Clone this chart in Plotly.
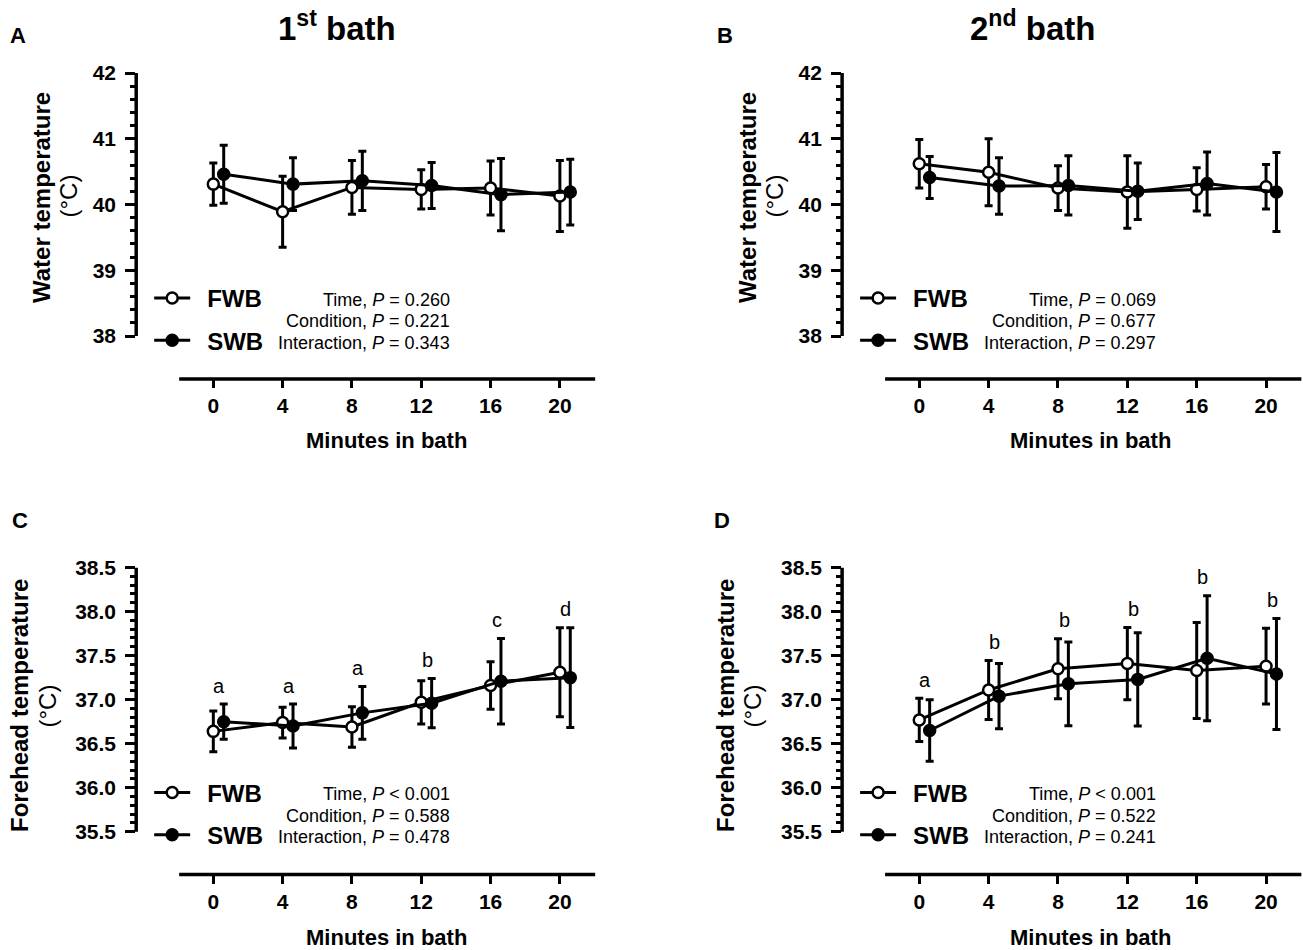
import numpy as np
import plotly.graph_objects as go

W, H = 1303, 950
FONT = "Liberation Sans, Arial, sans-serif"

# ---------------- data ----------------
minutes = [0, 4, 8, 12, 16, 20]

# Panel A: water temperature, 1st bath
A_fwb = [40.31, 39.89, 40.26, 40.23, 40.25, 40.13]
A_fwb_sd = [0.32, 0.54, 0.41, 0.30, 0.41, 0.54]
A_swb = [40.46, 40.31, 40.36, 40.29, 40.15, 40.19]
A_swb_sd = [0.44, 0.40, 0.45, 0.35, 0.55, 0.50]

# Panel B: water temperature, 2nd bath
B_fwb = [40.62, 40.49, 40.25, 40.19, 40.23, 40.27]
B_fwb_sd = [0.37, 0.51, 0.34, 0.55, 0.33, 0.34]
B_swb = [40.41, 40.28, 40.29, 40.20, 40.32, 40.19]
B_swb_sd = [0.32, 0.43, 0.45, 0.43, 0.48, 0.60]

# Panel C: forehead temperature, 1st bath
C_fwb = [36.64, 36.74, 36.69, 36.97, 37.16, 37.31]
C_fwb_sd = [0.23, 0.175, 0.23, 0.245, 0.27, 0.505]
C_swb = [36.75, 36.70, 36.85, 36.96, 37.21, 37.25]
C_swb_sd = [0.20, 0.25, 0.30, 0.28, 0.485, 0.565]

# Panel D: forehead temperature, 2nd bath
D_fwb = [36.77, 37.11, 37.35, 37.41, 37.33, 37.38]
D_fwb_sd = [0.245, 0.335, 0.34, 0.41, 0.545, 0.43]
D_swb = [36.65, 37.04, 37.18, 37.23, 37.47, 37.29]
D_swb_sd = [0.35, 0.37, 0.475, 0.53, 0.71, 0.63]

C_letters = ["a", "a", "a", "b", "c", "d"]
D_letters = ["a", "b", "b", "b", "b", "b"]

A_stats = ["Time, <i>P</i> = 0.260", "Condition, <i>P</i> = 0.221", "Interaction, <i>P</i> = 0.343"]
B_stats = ["Time, <i>P</i> = 0.069", "Condition, <i>P</i> = 0.677", "Interaction, <i>P</i> = 0.297"]
C_stats = ["Time, <i>P</i> &lt; 0.001", "Condition, <i>P</i> = 0.588", "Interaction, <i>P</i> = 0.478"]
D_stats = ["Time, <i>P</i> &lt; 0.001", "Condition, <i>P</i> = 0.522", "Interaction, <i>P</i> = 0.241"]

series_names = ["FWB", "SWB"]
water_ticks = [38, 39, 40, 41, 42]
forehead_ticks = [35.5, 36.0, 36.5, 37.0, 37.5, 38.0, 38.5]
x_ticks = [0, 4, 8, 12, 16, 20]

# ---------------- layout geometry (pixels) ----------------
def px(x):
    return x / W

def py(y):
    return 1 - y / H

SWB_OFFSET = 0.6
XR = [-4.45, 22.05]
XLINE = [-1.97, 22.05]
col_dom = [(136.2, 595.4), (842.1, 1301.6)]
row_dom = [(73.0, 379.0), (567.5, 874.5)]
row_range = [[42 - (379.0 - 73.0) / 65.75, 42], [38.5 - (874.5 - 567.5) / 88.1, 38.5]]
xtitle_x = [386, 1090]
xtitle_y = [440, 937]
LEG_PAD = "\u2002"  # small gap between legend symbol and label

panels = [
    dict(fwb=A_fwb, fsd=A_fwb_sd, swb=A_swb, ssd=A_swb_sd, col=0, row=0, stats=A_stats, letters=None),
    dict(fwb=B_fwb, fsd=B_fwb_sd, swb=B_swb, ssd=B_swb_sd, col=1, row=0, stats=B_stats, letters=None),
    dict(fwb=C_fwb, fsd=C_fwb_sd, swb=C_swb, ssd=C_swb_sd, col=0, row=1, stats=C_stats, letters=C_letters),
    dict(fwb=D_fwb, fsd=D_fwb_sd, swb=D_swb, ssd=D_swb_sd, col=1, row=1, stats=D_stats, letters=D_letters),
]

fig = go.Figure()
annotations = []
shapes = []
layout = {}

for i, p in enumerate(panels):
    n = i + 1
    sfx = "" if n == 1 else str(n)
    xa, ya = "x" + sfx, "y" + sfx
    lg = "legend" + sfx
    swb_x = [m + SWB_OFFSET for m in minutes]

    fig.add_trace(go.Scatter(
        x=minutes, y=p["fwb"], xaxis=xa, yaxis=ya,
        error_y=dict(type="data", array=p["fsd"], color="black", thickness=3, width=4),
        mode="lines+markers", line=dict(color="black", width=3),
        marker=dict(symbol="circle", size=11, color="white", line=dict(color="black", width=2.5)),
        name=LEG_PAD + series_names[0], legend=lg, legendgroup=f"f{n}", cliponaxis=False,
    ))
    fig.add_trace(go.Scatter(
        x=swb_x, y=p["swb"], xaxis=xa, yaxis=ya,
        error_y=dict(type="data", array=p["ssd"], color="black", thickness=3, width=4),
        mode="lines+markers", line=dict(color="black", width=3),
        marker=dict(symbol="circle", size=11, color="black", line=dict(color="black", width=2.5)),
        name=LEG_PAD + series_names[1], legend=lg, legendgroup=f"s{n}", cliponaxis=False,
    ))

    cx0, cx1 = col_dom[p["col"]]
    ry0, ry1 = row_dom[p["row"]]
    yr = row_range[p["row"]]
    if p["row"] == 0:
        major = water_ticks
        minor = [round(v, 2) for v in np.arange(38, 42.001, 0.2)]
        ttext = [f"{v:d}" for v in major]
    else:
        major = forehead_ticks
        minor = [round(v, 2) for v in np.arange(35.5, 38.5001, 0.1)]
        ttext = [f"{v:.1f}" for v in major]

    layout["xaxis" + sfx] = dict(
        domain=[px(cx0), px(cx1)], range=XR, anchor=ya, automargin=False,
        showline=False, showgrid=False, zeroline=False,
        tickmode="array", tickvals=x_ticks, ticktext=[str(v) for v in x_ticks],
        ticks="outside", ticklen=8, tickwidth=3, tickcolor="black",
        tickfont=dict(family=FONT, size=21, color="black", weight="bold"),
    )
    layout["yaxis" + sfx] = dict(
        domain=[py(ry1), py(ry0)], range=yr, anchor=xa, automargin=False,
        showline=False, showgrid=False, zeroline=False,
        tickmode="array", tickvals=major, ticktext=ttext,
        ticks="outside", ticklen=10, tickwidth=3, tickcolor="black",
        ticklabelstandoff=5,
        minor=dict(tickmode="array", tickvals=minor, ticks="outside", ticklen=5, tickwidth=2.5,
                   tickcolor="black", showgrid=False),
        tickfont=dict(family=FONT, size=21, color="black", weight="bold"),
    )
    # detached axis lines
    shapes.append(dict(type="line", xref=xa, yref=ya + " domain", x0=XLINE[0], x1=XLINE[1], y0=0, y1=0,
                       line=dict(color="black", width=3.5)))
    shapes.append(dict(type="line", xref=xa + " domain", yref=ya, x0=0, x1=0, y0=major[0], y1=major[-1],
                       line=dict(color="black", width=3.5)))

    # x axis title
    annotations.append(dict(text="<b>Minutes in bath</b>", xref="paper", yref="paper",
                            x=px(xtitle_x[p["col"]]), y=py(xtitle_y[p["row"]]),
                            xanchor="center", yanchor="middle", showarrow=False,
                            font=dict(family=FONT, size=22, color="black")))
    # legend
    layout[lg] = dict(
        x=px(cx0 + 13), y=py(ry0 + 203), xanchor="left", yanchor="top",
        font=dict(family=FONT, size=24, color="black", weight="bold"),
        bgcolor="rgba(0,0,0,0)", tracegroupgap=8, itemwidth=36,
    )
    # stats text
    for k, s in enumerate(p["stats"]):
        annotations.append(dict(text=s, xref="paper", yref="paper", xanchor="right", yanchor="middle",
                                x=px(cx0 + 316), y=py(ry0 + 226.5 + 21.5 * k),
                                showarrow=False, font=dict(family=FONT, size=18, color="black")))
    # significance letters
    if p["letters"]:
        for k, m in enumerate(minutes):
            top = max(p["fwb"][k] + p["fsd"][k], p["swb"][k] + p["ssd"][k])
            annotations.append(dict(text=p["letters"][k], xref=xa, yref=ya, x=m + 0.35, y=top + 0.21,
                                    showarrow=False, xanchor="center", yanchor="middle",
                                    font=dict(family=FONT, size=20, color="black")))

# y axis titles (two lines each)
ytitles = [
    ("Water temperature", 41, 198, 67.5, 196),
    ("Water temperature", 747, 198, 773.5, 196),
    ("Forehead temperature", 19, 706, 46.5, 706),
    ("Forehead temperature", 725, 706, 751.5, 706),
]
for t, x1, y1, x2, y2 in ytitles:
    annotations.append(dict(text=f"<b>{t}</b>", xref="paper", yref="paper", x=px(x1), y=py(y1),
                            xanchor="center", yanchor="middle",
                            textangle=-90, showarrow=False, font=dict(family=FONT, size=24, color="black")))
    annotations.append(dict(text="(°C)", xref="paper", yref="paper", x=px(x2), y=py(y2),
                            xanchor="center", yanchor="middle",
                            textangle=-90, showarrow=False, font=dict(family=FONT, size=24, color="black")))

# panel titles and letters
annotations.append(dict(text="<b>1<sup>st</sup> bath</b>", xref="paper", yref="paper", x=px(337), y=py(26),
                        xanchor="center", yanchor="middle",
                        showarrow=False, font=dict(family=FONT, size=33, color="black")))
annotations.append(dict(text="<b>2<sup>nd</sup> bath</b>", xref="paper", yref="paper", x=px(1032), y=py(26),
                        xanchor="center", yanchor="middle",
                        showarrow=False, font=dict(family=FONT, size=33, color="black")))
for lab, x, y in [("A", 17.5, 35), ("B", 725, 35), ("C", 20, 520), ("D", 722, 520)]:
    annotations.append(dict(text=f"<b>{lab}</b>", xref="paper", yref="paper", x=px(x), y=py(y),
                            xanchor="center", yanchor="middle",
                            showarrow=False, font=dict(family=FONT, size=22, color="black")))

fig.update_layout(
    width=W, height=H, autosize=False,
    margin=dict(l=0, r=0, t=0, b=0, pad=0, autoexpand=False),
    paper_bgcolor="white", plot_bgcolor="white",
    annotations=annotations, shapes=shapes, showlegend=True,
    font=dict(family=FONT, color="black"),
    **layout,
)

fig.write_html(
    "out.html",
    config={"displayModeBar": False, "responsive": False},
    post_script="document.body.style.margin='0';document.body.style.overflow='hidden';",
)
